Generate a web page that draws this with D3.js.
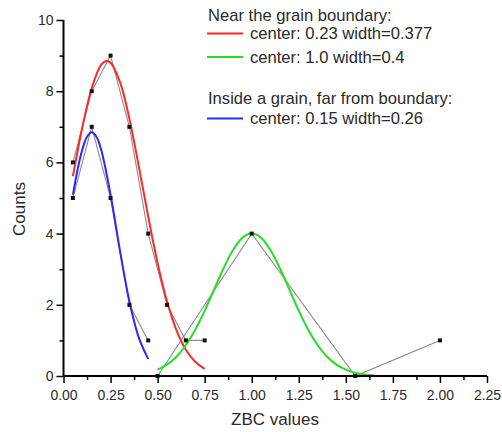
<!DOCTYPE html>
<html><head><meta charset="utf-8">
<script src="https://cdn.jsdelivr.net/npm/d3@7"></script>
<style>body{margin:0;background:#fff}svg{display:block}text{font-family:"Liberation Sans",Arial,sans-serif;fill:#2a2a2a}</style>
</head><body><svg id="c" width="502" height="432"></svg>
<script>
// Data points (measured histogram counts)
const nearX = [0.05,0.15,0.25,0.35,0.45,0.55,0.65,0.75];
const nearY = [6,8,9,7,4,2,1,1];
const near2X = [0.5,1.0,1.55,2.0];
const near2Y = [0,4,0,1];
const insideX = [0.05,0.15,0.25,0.35,0.45];
const insideY = [5,7,5,2,1];
// Fit curves
const redX = [0.05,0.10,0.15,0.20,0.23,0.25,0.30,0.35,0.40,0.45,0.50,0.55,0.60,0.65,0.70,0.75];
const redY = [5.61,6.98,8.09,8.74,8.85,8.80,8.26,7.23,5.89,4.48,3.17,2.09,1.29,0.74,0.40,0.20];
const blueX = [0.05,0.075,0.10,0.125,0.15,0.175,0.20,0.25,0.30,0.35,0.40,0.45];
const blueY = [5.09,5.80,6.36,6.72,6.85,6.72,6.36,5.09,3.52,2.10,1.08,0.48];
const greenX = [0.50,0.55,0.60,0.65,0.70,0.75,0.80,0.85,0.90,0.95,1.00,1.05,1.10,1.15,1.20,1.25,1.30,1.35,1.40,1.45,1.50,1.55,1.60,1.65];
const greenY = [0.18,0.32,0.54,0.87,1.30,1.83,2.43,3.02,3.53,3.88,4.00,3.88,3.53,3.02,2.43,1.83,1.30,0.87,0.54,0.32,0.18,0.09,0.04,0.02];
const xTicks = [0,0.25,0.5,0.75,1,1.25,1.5,1.75,2,2.25];
const yTicks = [0,2,4,6,8,10];
const legendTitles = ["Near the grain boundary:","Inside a grain, far from boundary:"];
const legendItems = ["center: 0.23 width=0.377","center: 1.0 width=0.4","center: 0.15 width=0.26"];

const svg = d3.select("#c");
const x = d3.scaleLinear().domain([0,2.25]).range([63.5,487]);
const y = d3.scaleLinear().domain([0,10]).range([376,20]);
const zip = (a,b)=>a.map((v,i)=>[v,b[i]]);
const line = d3.line().x(d=>x(d[0])).y(d=>y(d[1]));
const smooth = d3.line().x(d=>x(d[0])).y(d=>y(d[1])).curve(d3.curveCatmullRom);

// gray connecting lines
[[nearX,nearY],[near2X,near2Y],[insideX,insideY]].forEach(([a,b])=>{
  svg.append("path").attr("d",line(zip(a,b))).attr("fill","none").attr("stroke","#8a8a8a").attr("stroke-width",1.1);
});
// fits
[[redX,redY,"#ff2828"],[blueX,blueY,"#2828ff"],[greenX,greenY,"#22e022"]].forEach(([a,b,c])=>{
  svg.append("path").attr("d",smooth(zip(a,b))).attr("fill","none").attr("stroke",c).attr("stroke-width",2);
});
// markers
[[nearX,nearY],[near2X,near2Y],[insideX,insideY]].forEach(([a,b])=>{
  svg.append("g").selectAll("rect").data(zip(a,b)).join("rect")
    .attr("x",d=>x(d[0])-2).attr("y",d=>y(d[1])-2).attr("width",4).attr("height",4).attr("fill","#111");
});

// axes
const xMinor = d3.range(0.125,2.25,0.25);
const yMinor = [1,3,5,7,9];
const xAxis = svg.append("g").attr("transform","translate(0,376)");
xAxis.call(d3.axisBottom(x).tickValues(xTicks).tickFormat(d3.format(".2f")).tickSize(7).tickPadding(7));
xAxis.append("g").call(d3.axisBottom(x).tickValues(xMinor).tickFormat("").tickSize(4));
const yAxis = svg.append("g").attr("transform","translate(63.5,0)");
yAxis.call(d3.axisLeft(y).tickValues(yTicks).tickFormat(d3.format("d")).tickSize(7).tickPadding(3));
yAxis.append("g").call(d3.axisLeft(y).tickValues(yMinor).tickFormat("").tickSize(4));
svg.selectAll(".domain").attr("stroke","#000").attr("stroke-width",2);
svg.selectAll(".tick line").attr("stroke","#000").attr("stroke-width",1.5);
svg.selectAll(".tick text").attr("font-size",14).style("font-family","'Liberation Sans',Arial,sans-serif").attr("fill","#2a2a2a");
xAxis.selectAll(".tick text").attr("dy","0.71em");
yAxis.selectAll(".domain").attr("d","M0,376V20");
xAxis.select(".domain").attr("d","M63.5,0H487");
xAxis.selectAll("g g .domain").remove();
yAxis.selectAll("g g .domain").remove();

svg.append("text").attr("x",275).attr("y",425).attr("text-anchor","middle").attr("font-size",17).text("ZBC values");
svg.append("text").attr("transform","translate(25,209) rotate(-90)").attr("text-anchor","middle").attr("font-size",17).text("Counts");

// legend
const lg = svg.append("g");
lg.append("text").attr("x",208).attr("y",21).attr("font-size",16.6).text(legendTitles[0]);
lg.append("text").attr("x",208).attr("y",104).attr("font-size",16.6).text(legendTitles[1]);
const items = [[legendItems[0],"#ff2828",33.5],[legendItems[1],"#22e022",57],[legendItems[2],"#2828ff",118.5]];
items.forEach(([t,c,yy])=>{
  lg.append("line").attr("x1",207).attr("x2",243).attr("y1",yy).attr("y2",yy).attr("stroke",c).attr("stroke-width",2);
  lg.append("text").attr("x",250).attr("y",yy+5.5).attr("font-size",16.6).text(t);
});
</script></body></html>
